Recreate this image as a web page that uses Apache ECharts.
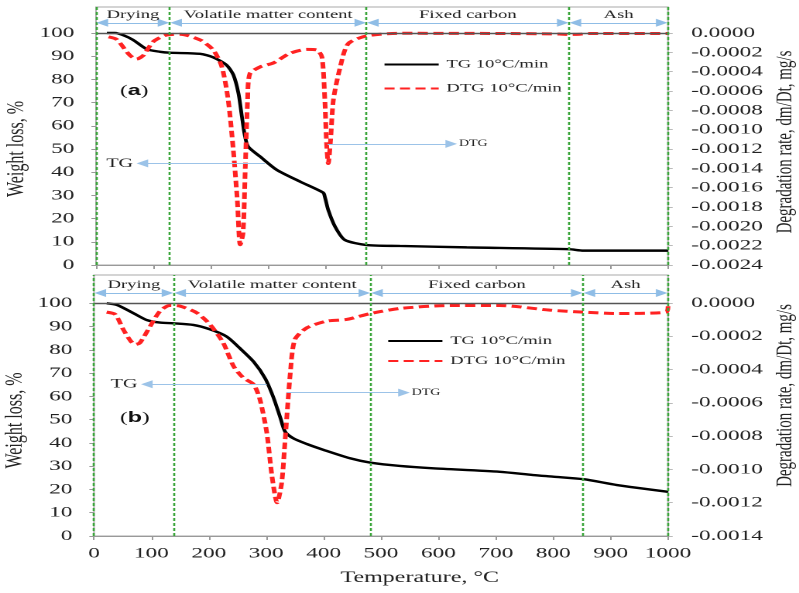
<!DOCTYPE html>
<html>
<head>
<meta charset="utf-8">
<script src="https://cdn.jsdelivr.net/npm/echarts@6/dist/echarts.min.js"></script>
<style>
html,body{margin:0;padding:0;background:#fff;overflow:hidden;}
#c{width:516px;height:593px;transform:scaleX(1.5485);transform-origin:0 0;}
</style>
</head>
<body>
<div id="c"></div>
<script>
// ---------- data ----------
const phaseNames = ['Drying', 'Volatile matter content', 'Fixed carbon', 'Ash'];
const phaseBoundsA = [0, 129, 473, 827, 1000];
const phaseBoundsB = [0, 139, 482, 852, 1000];
const seriesNames = ['TG 10°C/min', 'DTG 10°C/min'];
const xTicks = [0, 100, 200, 300, 400, 500, 600, 700, 800, 900, 1000];
const weightTicks = [0, 10, 20, 30, 40, 50, 60, 70, 80, 90, 100];
const rateTicksA = [0, -0.0002, -0.0004, -0.0006, -0.0008, -0.0010, -0.0012, -0.0014, -0.0016, -0.0018, -0.0020, -0.0022, -0.0024];
const rateTicksB = [0, -0.0002, -0.0004, -0.0006, -0.0008, -0.0010, -0.0012, -0.0014];

const tgA_T = [19, 33, 50, 65, 89, 112, 129, 182, 205, 228, 240, 249, 255, 260, 266, 287, 316, 357, 397, 400, 406, 418, 435, 473, 531, 648, 827, 852, 1000];
const tgA_W = [100, 100, 98.8, 97, 93, 91.9, 91.5, 91, 89.5, 86.2, 82, 74, 64, 56, 51, 46.7, 41, 35.9, 31.2, 29.4, 23.7, 16.5, 10.8, 8.6, 8.2, 7.6, 6.8, 6.2, 6.2];

const dtgA_T = [22, 36, 59, 71, 83, 100, 124, 147, 182, 205, 220, 231, 240, 247, 252, 257, 261, 265, 269, 287, 310, 339, 368, 386, 395, 400, 403, 406, 410, 415, 427, 441, 473, 531, 700, 810, 827, 845, 860, 1000];
const dtgA_R = [-0.00004, -0.000066, -0.00023, -0.00027, -0.00023, -0.00009, -0.00002, -0.000013, -0.000072, -0.000176, -0.00035, -0.00069, -0.00121, -0.00173, -0.00219, -0.00207, -0.00138, -0.00069, -0.00042, -0.00035, -0.00031, -0.00021, -0.00017, -0.000176, -0.00025, -0.00069, -0.00114, -0.00135, -0.00111, -0.00069, -0.00035, -0.00011, -0.00003, -0.000003, -0.000005, -0.00001, -0.000015, -0.000013, -0.000005, -0.000005];

const tgB_T = [22, 40, 69, 92, 115, 138, 173, 202, 231, 254, 278, 298, 312, 324, 333, 347, 371, 400, 446, 482, 533, 591, 707, 765, 800, 853, 911, 1000];
const tgB_W = [100, 99.3, 95.7, 92.8, 91.7, 91.4, 90.7, 88.8, 85.7, 80.7, 74.9, 67.8, 59.9, 51.3, 44.8, 42, 39.5, 37, 33.4, 31.5, 30.1, 29.1, 27.6, 26.2, 25.5, 24.4, 21.9, 19];

const dtgB_T = [22, 37, 51, 64, 72, 80, 98, 115, 132, 150, 179, 202, 225, 243, 260, 278, 289, 301, 310, 319, 327, 333, 342, 350, 371, 405, 440, 482, 533, 620, 707, 794, 853, 910, 997, 1000];
const dtgB_R = [-0.000056, -0.00007, -0.00016, -0.00023, -0.00025, -0.00024, -0.00014, -0.00005, -0.000016, -0.00002, -0.00006, -0.00013, -0.00024, -0.00038, -0.00045, -0.00049, -0.00058, -0.00078, -0.00104, -0.0012, -0.00108, -0.00082, -0.00042, -0.00022, -0.00015, -0.00011, -0.0001, -0.000064, -0.000034, -0.000016, -0.000016, -0.000044, -0.000056, -0.000064, -0.000056, -0.00002];

// annotation arrows: [fromT, toT, atWeight, text]
const annotA = [[295, 81, 43.8, 'TG'], [405, 621, 52.2, 'DTG']];
const annotB = [[301, 92, 65.2, 'TG'], [336, 540, 61.6, 'DTG']];

// ---------- build ----------
const FONT = "'Liberation Serif', 'Times New Roman', serif";
const zip = (a, b) => a.map((v, i) => [v, b[i]]);
const headerY = 104.4;
const arrowBlue = '#5b9bd5';

function markLines(bounds, annot) {
  const d = [];
  d.push({ yAxis: 100, lineStyle: { color: '#555', type: 'solid', width: 1.4 }, label: { show: false } });
  bounds.forEach(b => d.push({ xAxis: b, lineStyle: { color: '#3aa53a', type: [3, 2], width: 1.3 }, label: { show: false } }));
  for (let i = 0; i < phaseNames.length; i++) {
    d.push([
      { coord: [bounds[i] + 11, headerY], symbol: 'triangle',
        lineStyle: { color: '#8fbde6', type: 'solid', width: 1 },
        label: { show: true, formatter: phaseNames[i], position: 'insideMiddleTop', distance: 2,
                 color: '#222', fontFamily: FONT, fontSize: 12 } },
      { coord: [bounds[i + 1] - 11, headerY], symbol: 'triangle' }
    ]);
  }
  annot.forEach(a => {
    d.push([
      { coord: [a[0], a[2]], symbol: 'none',
        lineStyle: { color: '#9cc3e8', type: 'solid', width: 1 },
        label: { show: true, formatter: a[3], position: 'end', distance: a[3] === 'TG' ? 6 : 5,
                 color: '#222', fontFamily: FONT, fontSize: a[3] === 'TG' ? 13 : 9 } },
      { coord: [a[1], a[2]], symbol: 'triangle' }
    ]);
  });
  return {
    silent: true, animation: false, symbol: ['none', 'none'], symbolSize: [8, 7.5],
    itemStyle: { color: arrowBlue },
    data: d
  };
}

const tgStyle = { color: '#000', width: 2.4, type: 'solid' };
const dtgStyle = { color: '#ff2222', width: 3, type: [6.5, 3.5] };

function yLeft(grid, max, nameShift) {
  return {
    gridIndex: grid, type: 'value', position: 'left', min: 0, max: max,
    name: 'Weight loss, %', nameLocation: 'middle', nameGap: 43, nameRotate: 90, nameMoveOverlap: false,
    nameTextStyle: { fontFamily: FONT, fontSize: 16, lineHeight: 16, color: '#222', padding: [0, nameShift, 0, 0] },
    axisLine: { show: false },
    axisTick: { show: true, length: 3, lineStyle: { color: '#999' }, customValues: weightTicks },
    axisLabel: { fontFamily: FONT, fontSize: 15, color: '#222', margin: 14, customValues: weightTicks },
    splitLine: { show: false }
  };
}
function yRight(grid, min, max, ticks, pad) {
  return {
    gridIndex: grid, type: 'value', position: 'right', min: min, max: max,
    name: 'Degradation rate, dm/Dt, mg/s', nameLocation: 'middle', nameGap: 68, nameRotate: 90, nameMoveOverlap: false,
    nameTextStyle: { fontFamily: FONT, fontSize: 15, lineHeight: 15, color: '#222', padding: pad },
    axisLine: { show: false },
    axisTick: { show: true, length: 3, lineStyle: { color: '#bbb' }, customValues: ticks },
    axisLabel: { fontFamily: FONT, fontSize: 15, color: '#222', margin: 15, customValues: ticks,
                 formatter: v => (Math.abs(v) < 1e-9 ? 0 : v).toFixed(4) },
    splitLine: { show: false }
  };
}

const legendBase = {
  orient: 'vertical', itemWidth: 35, itemHeight: 14, padding: 0,
  itemStyle: { opacity: 0 },
  textStyle: { fontFamily: FONT, fontSize: 12, color: '#222' }, data: seriesNames
};

const option = {
  animation: false,
  backgroundColor: '#fff',
  grid: [
    { left: 62, top: 7, width: 369.4, height: 258, show: true, borderColor: '#aaa', borderWidth: 1, containLabel: false, outerBoundsMode: 'none' },
    { left: 60.7, top: 275, width: 370.7, height: 261, show: true, borderColor: '#aaa', borderWidth: 1, containLabel: false, outerBoundsMode: 'none' }
  ],
  xAxis: [
    { gridIndex: 0, type: 'value', min: 0, max: 1000, interval: 100,
      axisLine: { show: true, lineStyle: { color: '#999' } },
      axisTick: { show: true, length: 4, lineStyle: { color: '#999' } },
      axisLabel: { show: false }, splitLine: { show: false } },
    { gridIndex: 1, type: 'value', min: 0, max: 1000, interval: 100,
      name: 'Temperature, °C', nameLocation: 'middle', nameGap: 34, nameMoveOverlap: false,
      nameTextStyle: { fontFamily: FONT, fontSize: 15.5, color: '#222', padding: [0, 0, 0, 50] },
      axisLine: { show: true, lineStyle: { color: '#999' } },
      axisTick: { show: true, length: 4, lineStyle: { color: '#999' } },
      axisLabel: { fontFamily: FONT, fontSize: 15, color: '#222', margin: 10, formatter: v => String(v) },
      splitLine: { show: false } }
  ],
  yAxis: [
    yLeft(0, 111.2, 26),
    yRight(0, -0.0024, 0.000269, rateTicksA, [0, 12, 0, 0]),
    yLeft(1, 112.16, 30),
    yRight(1, -0.0014, 0.000167, rateTicksB, [0, 0, 0, 20])
  ],
  legend: [
    Object.assign({}, legendBase, { left: 247.3, top: 58.5, itemGap: 12 }),
    Object.assign({}, legendBase, { left: 249.7, top: 335, itemGap: 8 })
  ],
  graphic: [
    { type: 'text', x: 77.5, y: 91, style: { text: '{n|(}{b|a}{n|)}', verticalAlign: 'middle',
      rich: { n: { fontFamily: FONT, fontSize: 15, fill: '#111' }, b: { fontFamily: 'Liberation Sans, Arial, sans-serif', fontWeight: 'bold', fontSize: 15, fill: '#111' } } } },
    { type: 'text', x: 77.5, y: 418, style: { text: '{n|(}{b|b}{n|)}', verticalAlign: 'middle',
      rich: { n: { fontFamily: FONT, fontSize: 15, fill: '#111' }, b: { fontFamily: 'Liberation Sans, Arial, sans-serif', fontWeight: 'bold', fontSize: 15, fill: '#111' } } } }
  ],
  series: [
    { name: seriesNames[0], type: 'line', xAxisIndex: 0, yAxisIndex: 0, data: zip(tgA_T, tgA_W),
      symbol: 'none', smooth: 0.25, lineStyle: tgStyle, itemStyle: { color: '#000' }, z: 3,
      markLine: markLines(phaseBoundsA, annotA) },
    { name: seriesNames[1], type: 'line', xAxisIndex: 0, yAxisIndex: 1, data: zip(dtgA_T, dtgA_R),
      symbol: 'none', smooth: 0.25, lineStyle: dtgStyle, itemStyle: { color: '#ff2222' }, z: 4 },
    { name: seriesNames[0], type: 'line', xAxisIndex: 1, yAxisIndex: 2, data: zip(tgB_T, tgB_W),
      symbol: 'none', smooth: 0.25, lineStyle: tgStyle, itemStyle: { color: '#000' }, z: 3,
      markLine: markLines(phaseBoundsB, annotB) },
    { name: seriesNames[1], type: 'line', xAxisIndex: 1, yAxisIndex: 3, data: zip(dtgB_T, dtgB_R),
      symbol: 'none', smooth: 0.25, lineStyle: dtgStyle, itemStyle: { color: '#ff2222' }, z: 4 }
  ]
};

const chart = echarts.init(document.getElementById('c'), null, { renderer: 'canvas', devicePixelRatio: 2 });
chart.setOption(option);
</script>
</body>
</html>
